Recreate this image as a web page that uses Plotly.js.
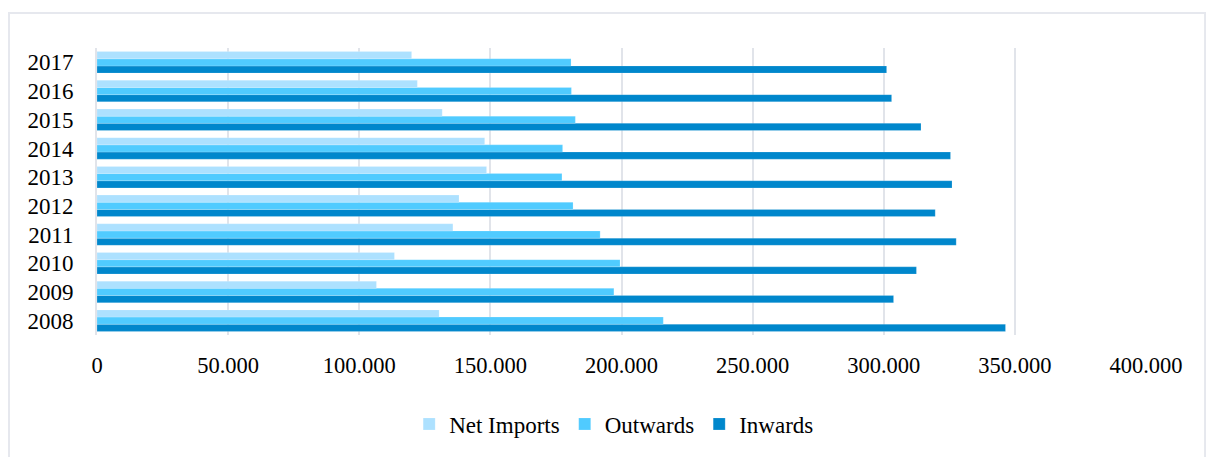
<!DOCTYPE html>
<html>
<head>
<meta charset="utf-8">
<script src="https://cdn.plot.ly/plotly-3.0.1.min.js"></script>
<style>
html,body{margin:0;padding:0;background:#fff;}
#chart{width:1206px;height:457px;}
</style>
</head>
<body>
<div id="chart"></div>
<script>
const years = ["2008","2009","2010","2011","2012","2013","2014","2015","2016","2017"];
const netImports = [130450,106560,113420,135710,138040,148550,147830,131630,122150,119970];
const outwards   = [215930,197100,199430,191850,181520,177290,177550,182400,180900,180750];
const inwards    = [346420,303740,312460,327630,319630,326030,325460,314200,303000,301100];

const traces = [
  {type:'bar', orientation:'h', name:'Inwards', y:years, x:inwards,
   marker:{color:'#0087CC', line:{color:'rgba(255,255,255,0.35)', width:0.5}}},
  {type:'bar', orientation:'h', name:'Outwards', y:years, x:outwards,
   marker:{color:'#50CBFF', line:{color:'rgba(255,255,255,0.35)', width:0.5}}},
  {type:'bar', orientation:'h', name:'Net Imports', y:years, x:netImports,
   marker:{color:'#ADE1FF', line:{color:'rgba(255,255,255,0.35)', width:0.5}}}
];

const layout = {
  width:1206, height:457,
  margin:{l:97, r:60, t:48, b:122},
  paper_bgcolor:'#fff', plot_bgcolor:'#fff',
  font:{family:'"Liberation Serif", "Times New Roman", serif', size:22.5, color:'#000'},
  separators:',.',
  barmode:'group',
  bargap:0.25,
  bargroupgap:0,
  showlegend:true,
  legend:{orientation:'h', traceorder:'reversed', x:0.493, xanchor:'center', y:-0.31, yanchor:'middle',
          font:{size:23}, itemwidth:30},
  xaxis:{range:[0,400000], dtick:50000, tick0:0, tickformat:',d',
         showgrid:true, gridcolor:'#E1E4EA', gridwidth:2, zeroline:false,
         showline:false, ticks:'outside', ticklen:10, tickcolor:'rgba(0,0,0,0)',
         fixedrange:true},
  yaxis:{type:'category', categoryorder:'array', categoryarray:years,
         showgrid:false, zeroline:false, showline:true, linecolor:'#E1E4EA', linewidth:2,
         ticks:'outside', ticklen:17, tickcolor:'rgba(0,0,0,0)', fixedrange:true,
         tickfont:{size:23}},
  shapes:[
    {type:'rect', xref:'paper', yref:'paper', x0:-0.0839, x1:1.0563, y0:-0.45, y1:1.122,
     line:{color:'#E6E8EE', width:2}, fillcolor:'rgba(0,0,0,0)', layer:'below'}
  ]
};

Plotly.newPlot('chart', traces, layout, {displayModeBar:false, staticPlot:true});
</script>
</body>
</html>
